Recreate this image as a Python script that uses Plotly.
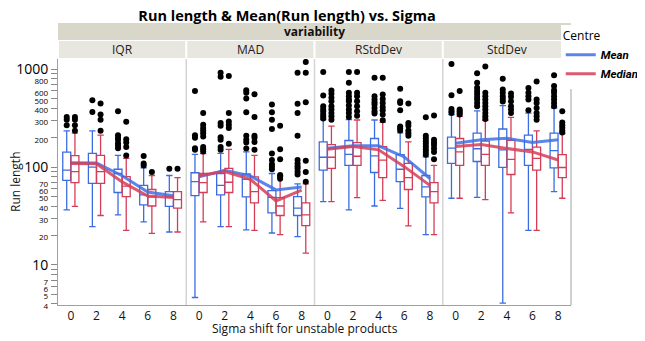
import plotly.graph_objects as go

sigma = [0, 2, 4, 6, 8]
panels = ["IQR", "MAD", "RStdDev", "StdDev"]

# box stats per sigma: lower whisker, Q1, median, Q3, upper whisker
iqr_mean_box = [[36.6, 73, 93, 142, 235], [24.6, 68, 100, 138, 235], [32.5, 55, 86, 95, 132],
                [27.5, 41, 52, 65, 98], [21.7, 39.6, 49.5, 56, 82]]
iqr_median_box = [[39.6, 69.5, 90, 131, 222], [32, 68, 90, 132, 212], [22.5, 50, 64, 80, 123],
                  [21, 40, 49.5, 59, 82], [21.7, 38, 46.5, 56, 78]]
mad_mean_box = [[4.64, 51, 71, 87.5, 135], [24.6, 52, 65, 86, 138], [22.8, 49.5, 75, 85, 143],
                [21.2, 34, 49, 57.5, 86], [19.5, 32, 38, 50, 67.3]]
mad_median_box = [[27.5, 55, 69.5, 86, 137], [24.6, 55, 70, 97, 152], [22.5, 43, 56, 79.5, 132],
                  [20.4, 32, 40, 48.7, 81.5], [13.2, 25.2, 32.5, 43, 67.3]]
rsd_mean_box = [[44.3, 93, 126, 181, 305], [36.6, 104, 135, 187, 305], [40, 88, 130, 196, 303],
                [37.8, 71, 95, 134, 224], [20.4, 49.5, 62.7, 82, 127]]
rsd_median_box = [[44.3, 97, 126, 170, 262], [48.7, 104, 129, 178, 303], [45.7, 78, 118, 162, 286],
                  [25, 59, 78, 109, 181], [20.4, 43, 56, 69.5, 104]]
sd_mean_box = [[48, 109, 156, 202, 344], [49, 114, 154, 222, 375], [4.06, 99.3, 150, 245, 425],
               [22.5, 104, 152, 212, 357], [56, 98, 147, 222, 402]]
sd_median_box = [[48, 104, 143, 196, 330], [46.5, 104, 135, 184, 301], [34, 84, 120, 188, 323],
                 [22.5, 93, 123, 160, 235], [48, 78, 99, 134, 220]]

# outliers per sigma
iqr_mean_out = [[325, 305, 267], [483, 366], [372, 212, 200, 190, 175, 165, 156], [130, 109, 104], [96]]
iqr_median_out = [[325, 305, 267, 235], [446, 344, 305, 235], [291, 193, 178, 160, 131], [89], [96]]
mad_mean_out = [[598, 212, 200, 156, 150], [924, 840, 282, 265, 202, 190, 160, 150],
                [612, 574, 502, 363, 209, 190, 178, 155], [436, 363, 305, 245, 138, 118, 107, 101, 95],
                [924, 443, 357, 209, 118, 109, 102, 97, 89.6, 84]]
mad_median_out = [[357, 271, 251, 237, 222, 205, 160, 152, 144], [854, 357, 293, 271, 251, 173],
                  [557, 325, 209, 199, 180, 150], [265, 152, 120, 83, 79.5, 76],
                  [1190, 924, 460, 116, 89, 71]]
rsd_mean_out = [[939, 540, 419, 393, 372, 349, 330, 313], [939, 729, 574, 531, 490, 472, 425, 387, 357, 325],
                [820, 531, 490, 460, 436, 402, 372, 352], [632, 472, 453, 381, 260, 249, 237],
                [323, 209, 196, 184, 173, 162, 152, 143, 134]]
rsd_median_out = [[608, 561, 510, 472, 419, 387, 357, 330, 305], [939, 574, 531, 472, 419, 372, 335],
                  [820, 552, 498, 453, 411, 381, 344, 301], [446, 282, 265, 237, 222, 209],
                  [336, 190, 178, 168, 155, 143, 120]]
sd_mean_out = [[1135, 544, 393, 372, 357], [909, 729, 647, 598, 561, 523, 490, 453, 419],
               [801, 622, 574, 531, 498, 468], [642, 574, 531, 490, 381],
               [867, 673, 612, 574, 531, 490, 453, 419]]
sd_median_out = [[598, 387, 372, 357, 344], [1065, 574, 531, 490, 453, 419, 387, 357, 330, 310],
                 [565, 523, 472, 419, 387, 357], [752, 490, 453, 402, 357, 330, 305],
                 [372, 286, 268, 252, 237, 226]]

# Mean(Run length) lines
iqr_mean_line = [111, 110, 81.5, 55.7, 51]
iqr_median_line = [109, 108, 70.6, 50.6, 49]
mad_mean_line = [79.5, 92.5, 81, 58.4, 62.7]
mad_median_line = [82, 90, 75, 45, 58]
rsd_mean_line = [156, 165, 165, 127, 76.4]
rsd_median_line = [152, 162, 150, 101, 65]
sd_mean_line = [175, 190, 197, 178, 190]
sd_median_line = [162, 170, 155, 143, 118]

boxes = [(iqr_mean_box, iqr_median_box), (mad_mean_box, mad_median_box),
         (rsd_mean_box, rsd_median_box), (sd_mean_box, sd_median_box)]
outs = [(iqr_mean_out, iqr_median_out), (mad_mean_out, mad_median_out),
        (rsd_mean_out, rsd_median_out), (sd_mean_out, sd_median_out)]
lines = [(iqr_mean_line, iqr_median_line), (mad_mean_line, mad_median_line),
         (rsd_mean_line, rsd_median_line), (sd_mean_line, sd_median_line)]

BLUE = "#3b6de0"
RED = "#d43d56"
LINE_BLUE = "rgba(64,112,228,0.85)"
LINE_RED = "rgba(214,62,88,0.85)"
FONT = "Open Sans"

fig = go.Figure()
for p in range(4):
    xa = "x" if p == 0 else "x%d" % (p + 1)
    for c, (col, off) in enumerate([(BLUE, -0.32), (RED, 0.32)]):
        st = boxes[p][c]
        xs = [s + off for s in sigma]
        fig.add_trace(go.Box(
            x=xs, lowerfence=[r[0] for r in st], q1=[r[1] for r in st], median=[r[2] for r in st],
            q3=[r[3] for r in st], upperfence=[r[4] for r in st],
            width=0.62, whiskerwidth=0.8, boxpoints=False,
            line=dict(color=col, width=1.3), fillcolor="rgba(0,0,0,0)",
            xaxis=xa, yaxis="y", showlegend=False))
        ox, oy = [], []
        for s, vals in zip(sigma, outs[p][c]):
            ox += [s + off] * len(vals)
            oy += vals
        fig.add_trace(go.Scatter(x=ox, y=oy, mode="markers", marker=dict(color="black", size=6),
                                 xaxis=xa, yaxis="y", showlegend=False))
    for c, (name, col) in enumerate([("<b><i>Mean</i></b>", LINE_BLUE), ("<b><i>Median</i></b>", LINE_RED)]):
        fig.add_trace(go.Scatter(x=sigma, y=lines[p][c], mode="lines", name=name,
                                 line=dict(color=col, width=3), xaxis=xa, yaxis="y",
                                 legendgroup=name, showlegend=(p == 0)))

ytv = [4, 5, 6, 7, 8, 9, 10, 20, 30, 40, 50, 60, 70, 80, 90, 100,
       200, 300, 400, 500, 600, 700, 800, 900, 1000]
big = {10, 100, 1000}
skip = {8, 9, 80, 90, 700, 900}
ytt = []
for v in ytv:
    if v in big:
        ytt.append(str(v))
    elif v in skip:
        ytt.append("")
    else:
        ytt.append("<span style='font-size:8px'>%d</span>" % v)

# page body has an 8px margin, so the figure is a bit smaller than the window
layout = dict(
    width=637, height=333, plot_bgcolor="white", paper_bgcolor="white",
    margin=dict(l=50, r=74, t=51, b=36, autoexpand=False),
    font=dict(family=FONT, size=12, color="#222"),
    title=dict(text="<b>Run length & Mean(Run length) vs. Sigma</b>", x=0.438, xanchor="center",
               y=0.977, yanchor="middle", font=dict(size=14.5, color="black")),
    yaxis=dict(type="log", range=[0.59, 3.105], tickvals=ytv, ticktext=ytt, ticks="outside",
               ticklen=6, tickcolor="#888", showgrid=False, zeroline=False, automargin=False,
               showline=True, linecolor="#a0a0a0", tickfont=dict(size=14, color="black")),
    legend=dict(x=0.98, y=1.14, xanchor="left", yanchor="top",
                font=dict(size=11.5, color="black", family="Roboto"),
                title=dict(text="Centre", font=dict(size=12, family=FONT)),
                tracegroupgap=0, itemwidth=30),
    showlegend=True,
)
dw = 1 / 4
for p in range(4):
    key = "xaxis" if p == 0 else "xaxis%d" % (p + 1)
    layout[key] = dict(domain=[p * dw, (p + 1) * dw], range=[-1, 9], tickvals=sigma,
                       ticks="", showgrid=False, zeroline=False, anchor="y", automargin=False,
                       showline=True, linecolor="#a0a0a0", tickfont=dict(size=12, color="#111"))
fig.update_layout(**layout)

# strip headers and frame
fig.add_shape(type="rect", xref="paper", yref="paper", x0=0, x1=1, y0=1.077, y1=1.146,
              fillcolor="#d9d7ca", line=dict(width=0), layer="below")
for p in range(4):
    fig.add_shape(type="rect", xref="paper", yref="paper", x0=p * dw + 0.002, x1=(p + 1) * dw - 0.002,
                  y0=1.004, y1=1.073, fillcolor="#e8e7df", line=dict(width=0), layer="below")
    fig.add_annotation(text=panels[p], xref="paper", yref="paper", x=(p + 0.5) * dw, y=1.0385,
                       xanchor="center", yanchor="middle", showarrow=False,
                       font=dict(size=12, color="#222"))
    if p > 0:
        fig.add_shape(type="line", xref="paper", yref="paper", x0=p * dw, x1=p * dw, y0=0, y1=1,
                      line=dict(color="#d4d4d4", width=1.5))
fig.add_shape(type="line", xref="paper", yref="paper", x0=1, x1=1, y0=0, y1=1,
              line=dict(color="#a0a0a0", width=1))
fig.add_annotation(text="<b>variability</b>", xref="paper", yref="paper", x=0.5, y=1.1115,
                   xanchor="center", yanchor="middle", showarrow=False,
                   font=dict(size=12, color="#111"))
fig.add_annotation(text="Sigma shift for unstable products", xref="paper", yref="paper", x=0.482,
                   y=-0.0935, xanchor="center", yanchor="middle", showarrow=False,
                   font=dict(size=12, color="#111"))
fig.add_annotation(text="Run length", xref="paper", yref="paper", x=-0.0838, y=0.5,
                   xanchor="center", yanchor="middle", textangle=-90, showarrow=False,
                   font=dict(size=12, color="#111"))

fig.write_html("out.html")
